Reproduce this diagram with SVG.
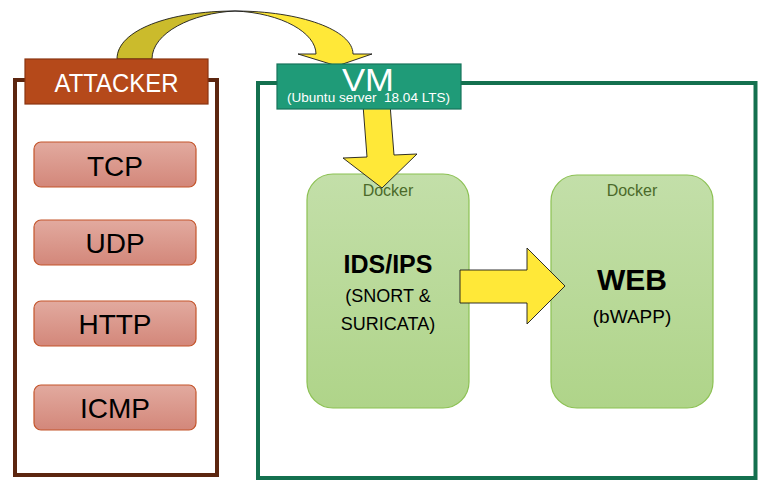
<svg xmlns="http://www.w3.org/2000/svg" width="773" height="494" viewBox="0 0 773 494">
<defs>
<linearGradient id="gProto" x1="0" y1="0" x2="0" y2="1">
<stop offset="0" stop-color="#e2aa9f"/>
<stop offset="1" stop-color="#d3877a"/>
</linearGradient>
<linearGradient id="gDocker" x1="0" y1="0" x2="0" y2="1">
<stop offset="0" stop-color="#c3dfa9"/>
<stop offset="1" stop-color="#afd489"/>
</linearGradient>
</defs>
<style>
text { font-family: "Liberation Sans", Arial, sans-serif; text-anchor: middle; }
.frameA { fill: #ffffff; stroke: #5c2610; stroke-width: 4; }
.frameV { fill: #ffffff; stroke: #14704f; stroke-width: 4; }
.proto { fill: url(#gProto); stroke: #c4552b; stroke-width: 1.2; }
.protoT { font-size: 28px; fill: #000000; }
.docker { fill: url(#gDocker); stroke: #8cc153; stroke-width: 1.2; }
.dockT { font-size: 16px; fill: #4b6a2a; }
.arrow { fill: #ffe838; stroke: #1a1a1a; stroke-width: 0.9; stroke-linejoin: miter; }
.arrowBack { fill: #cbbb2c; stroke: #1a1a1a; stroke-width: 0.9; }
.white { fill: #ffffff; }
</style>

<g id="attacker-frame">
<rect class="frameA" x="15" y="80" width="202" height="395"/>
</g>
<g id="vm-frame">
<rect class="frameV" x="258" y="83" width="497.5" height="395"/>
</g>

<g id="docker-ids">
<rect class="docker" x="307" y="174" width="162" height="234" rx="26"/>
<text class="dockT" x="388" y="196">Docker</text>
<text x="388" y="273" font-size="25" font-weight="bold">IDS/IPS</text>
<text x="388" y="302" font-size="18">(SNORT &amp;</text>
<text x="388" y="330" font-size="18">SURICATA)</text>
</g>

<g id="docker-web">
<rect class="docker" x="551" y="175" width="162" height="233" rx="26"/>
<text class="dockT" x="632" y="196">Docker</text>
<text x="632" y="290" font-size="30" font-weight="bold">WEB</text>
<text x="632" y="323" font-size="19">(bWAPP)</text>
</g>

<g id="tcp">
<rect class="proto" x="34" y="142" width="162" height="45" rx="7"/>
<text class="protoT" x="115" y="176">TCP</text>
</g>
<g id="udp">
<rect class="proto" x="34" y="220" width="162" height="45" rx="7"/>
<text class="protoT" x="115" y="253">UDP</text>
</g>
<g id="http">
<rect class="proto" x="34" y="301" width="162" height="45" rx="7"/>
<text class="protoT" x="115" y="334">HTTP</text>
</g>
<g id="icmp">
<rect class="proto" x="34" y="385" width="162" height="45" rx="7"/>
<text class="protoT" x="115" y="418">ICMP</text>
</g>

<g id="connectors">
<path class="arrowBack" d="M117,59 C117,30 170,11 235,11 C192,13 152,33 152,59 Z"/>
<path class="arrow" d="M235,11 C300,11 353,30 353,54 L372,54 L337,66 L298,54 L316,54 C316,33 282,13 235,11 Z"/>
<polygon class="arrow" points="363,105 390,104 394,155 417,154 382,188 343,158 367,157"/>
<polygon class="arrow" points="460,270 527,270 527,248 565,286 527,324 527,303 460,303"/>
</g>

<g id="attacker-label">
<rect x="25" y="59" width="183" height="45" fill="#b5491a" stroke="#8a3512" stroke-width="1.2"/>
<text class="white" x="116.5" y="92" font-size="26" textLength="124" lengthAdjust="spacingAndGlyphs">ATTACKER</text>
</g>

<g id="vm-label">
<rect x="277" y="64" width="184" height="45" fill="#1f9b78" stroke="#16735a" stroke-width="1.2"/>
<text class="white" x="368" y="91" font-size="32" textLength="52" lengthAdjust="spacingAndGlyphs">VM</text>
<text class="white" x="368.5" y="102" font-size="12.5" style="white-space:pre" textLength="163" lengthAdjust="spacingAndGlyphs">(Ubuntu server  18.04 LTS)</text>
</g>
</svg>
